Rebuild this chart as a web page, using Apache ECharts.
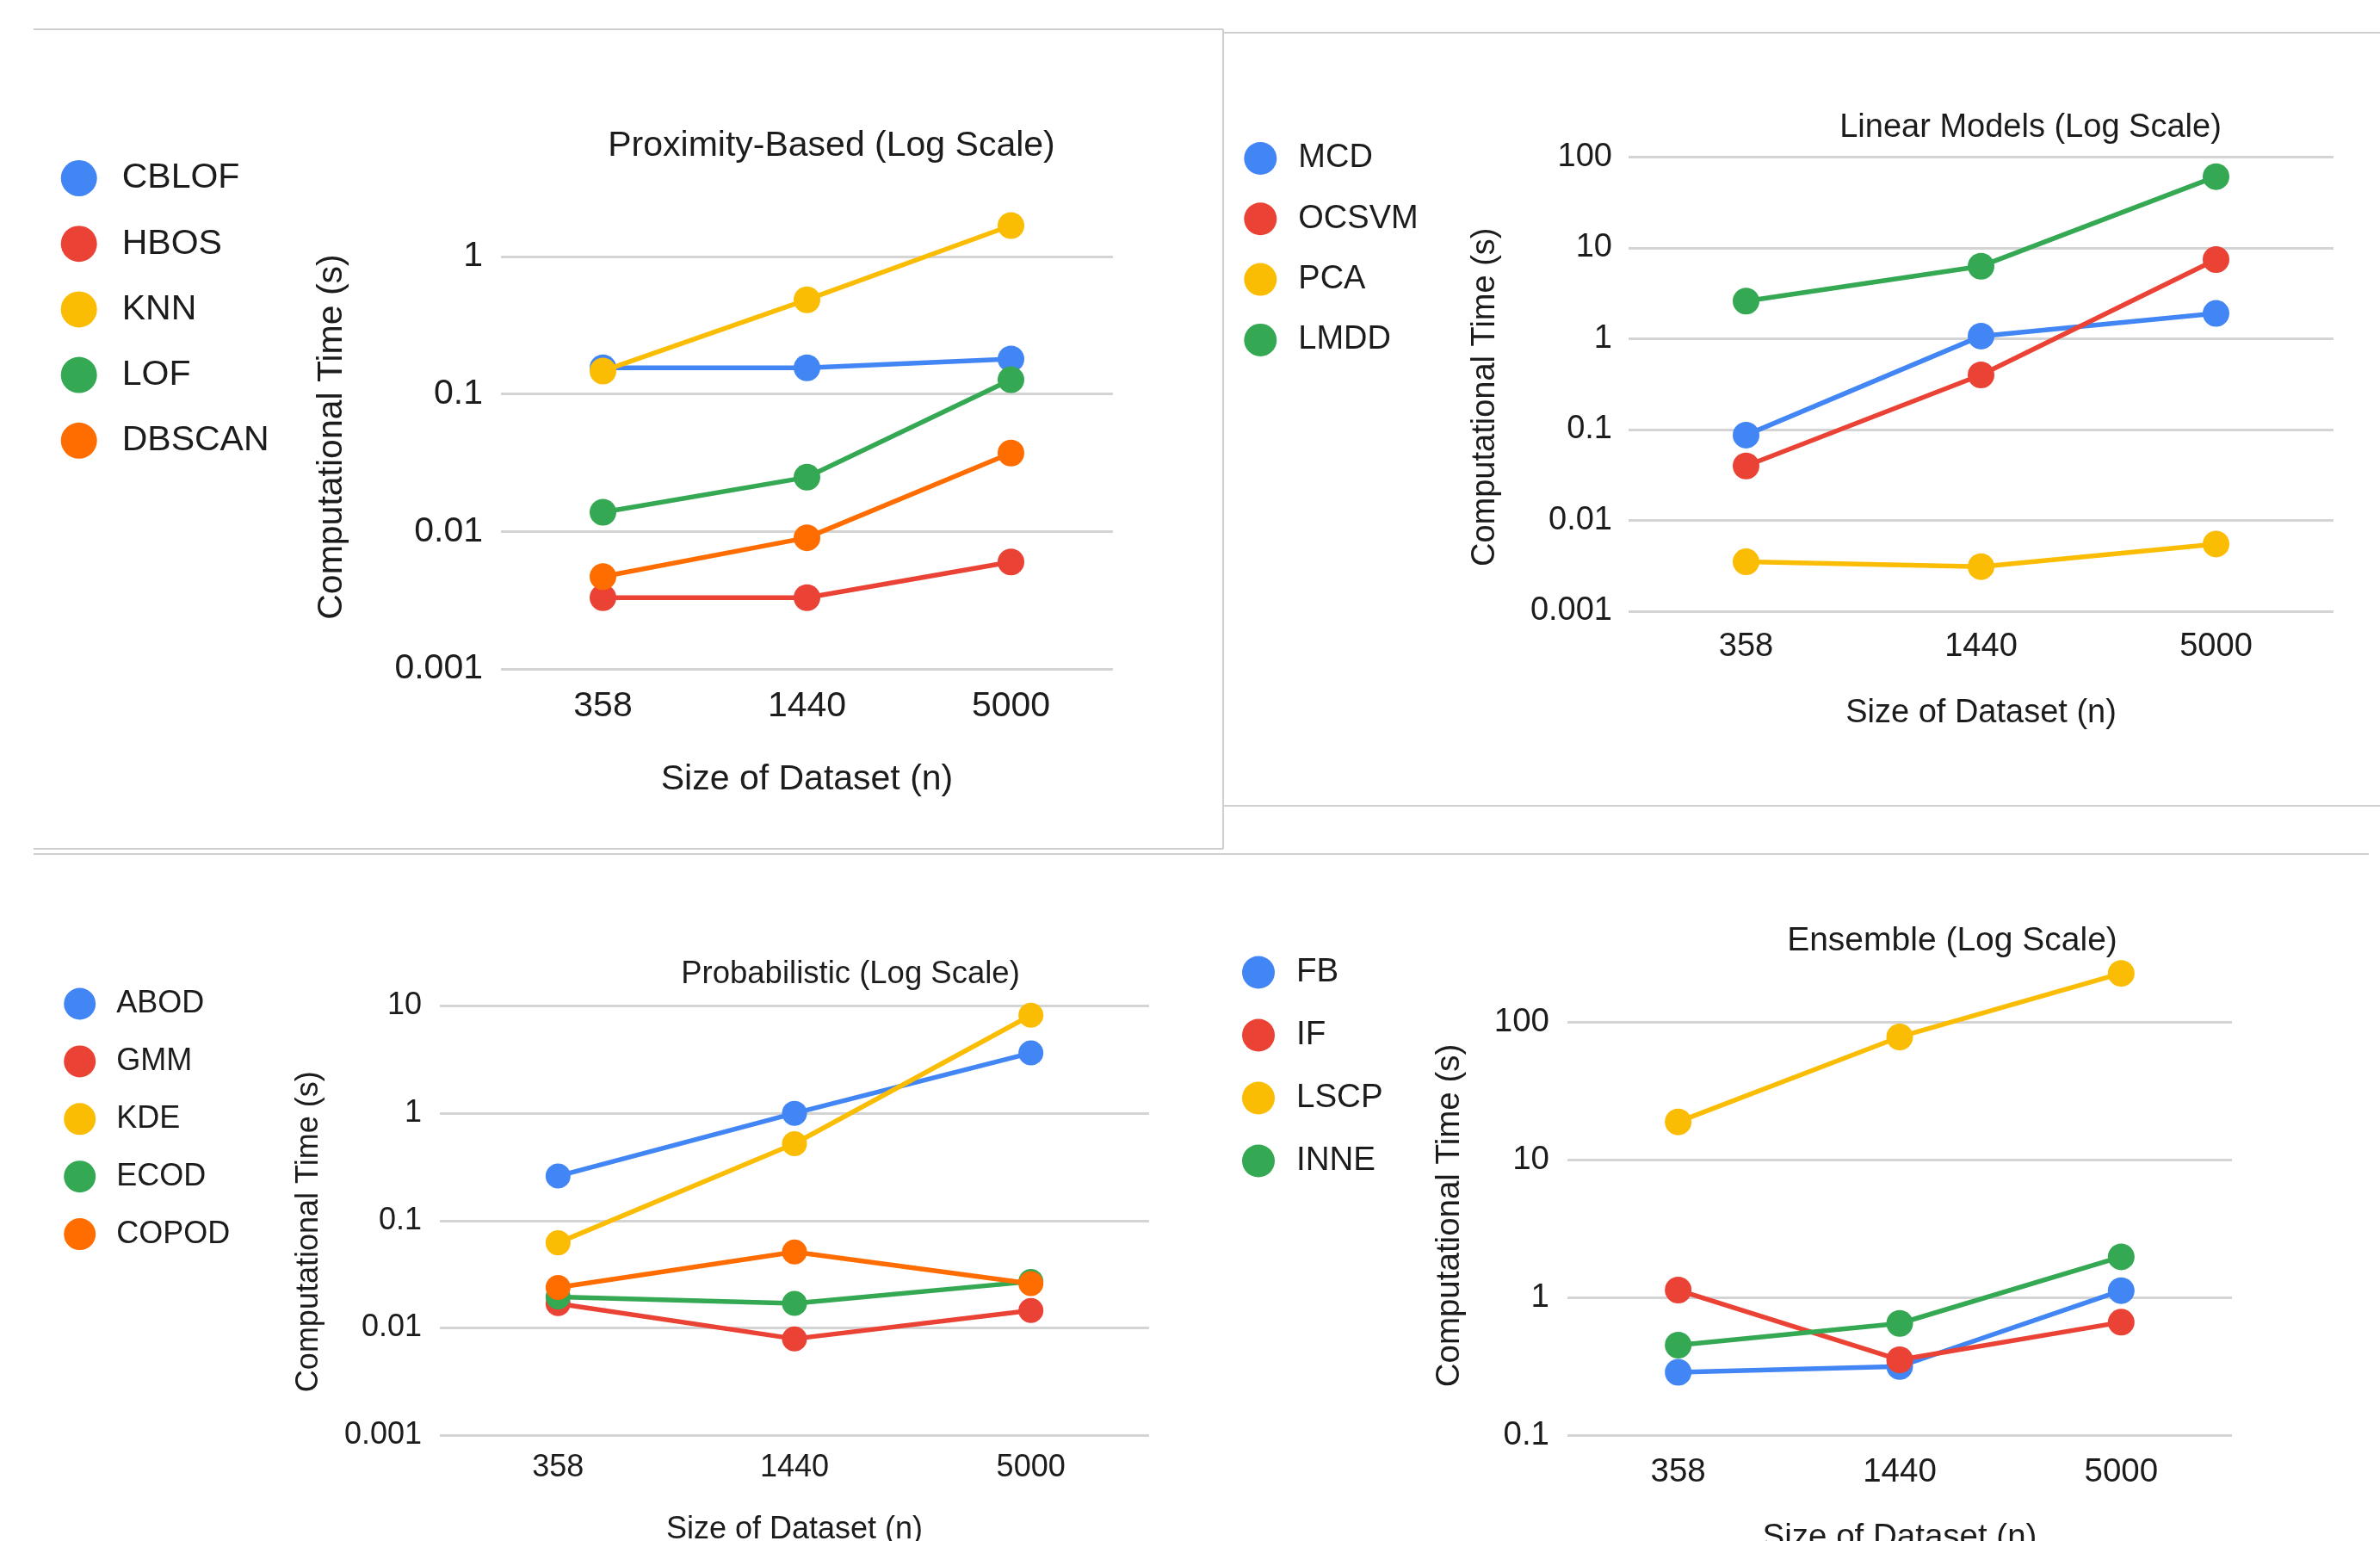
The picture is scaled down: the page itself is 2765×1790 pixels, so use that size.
<!DOCTYPE html>
<html>
<head>
<meta charset="utf-8">
<script src="https://cdn.jsdelivr.net/npm/echarts@6/dist/echarts.min.js"></script>
<style>
html,body{margin:0;padding:0;background:#fff;}
#c{width:2765px;height:1790px;}
</style>
</head>
<body>
<div id="c"></div>
<script>
// ---------- DATA ----------
const categories = ['358', '1440', '5000'];

// Proximity-Based
const proxNames = ['CBLOF', 'HBOS', 'KNN', 'LOF', 'DBSCAN'];
const CBLOF  = [0.155, 0.155, 0.18];
const HBOS   = [0.0033, 0.0033, 0.006];
const KNN    = [0.147, 0.485, 1.68];
const LOF    = [0.0138, 0.0248, 0.127];
const DBSCAN = [0.0047, 0.009, 0.0372];
const proxTicks = [0.001, 0.01, 0.1, 1];

// Linear Models
const linNames = ['MCD', 'OCSVM', 'PCA', 'LMDD'];
const MCD   = [0.087, 1.07, 1.9];
const OCSVM = [0.0398, 0.4, 7.45];
const PCA   = [0.0035, 0.0031, 0.0055];
const LMDD  = [2.6, 6.3, 61];
const linTicks = [0.001, 0.01, 0.1, 1, 10, 100];

// Probabilistic
const probNames = ['ABOD', 'GMM', 'KDE', 'ECOD', 'COPOD'];
const ABOD  = [0.26, 1.0, 3.65];
const GMM   = [0.0168, 0.0079, 0.0145];
const KDE   = [0.062, 0.52, 8.2];
const ECOD  = [0.0194, 0.0169, 0.027];
const COPOD = [0.0238, 0.051, 0.0258];
const probTicks = [0.001, 0.01, 0.1, 1, 10];

// Ensemble
const ensNames = ['FB', 'IF', 'LSCP', 'INNE'];
const FB   = [0.286, 0.315, 1.12];
const IF   = [1.13, 0.352, 0.66];
const LSCP = [18.8, 77.8, 225];
const INNE = [0.45, 0.647, 1.97];
const ensTicks = [0.1, 1, 10, 100];

const titles = ['Proximity-Based (Log Scale)', 'Linear Models (Log Scale)', 'Probabilistic (Log Scale)', 'Ensemble (Log Scale)'];
const xTitle = 'Size of Dataset (n)';
const yTitle = 'Computational Time (s)';

// ---------- STYLE / LAYOUT ----------
const BLUE = '#4285F4', RED = '#EA4335', YELLOW = '#FBBC04', GREEN = '#34A853', ORANGE = '#FF6D01';
const FONT = "'Liberation Sans', Arial, Helvetica, sans-serif";
const TXT = '#1c1c1c';
const GRIDC = '#d4d4d4';

const panels = [
  { names: proxNames, values: [CBLOF, HBOS, KNN, LOF, DBSCAN], colors: [BLUE, RED, YELLOW, GREEN, ORANGE], ticks: proxTicks,
    grid: { left: 582, top: 298, width: 711, height: 479 }, fs: 41, tfs: 41, titleX: 966, titleY: 169.5,
    legend: { left: 70.7, top: 186, size: 42, gap: 34.2, pad: 24 }, sym: 31,
    xLabelMargin: 23.5, xNameGap: 108.5, yLabelMargin: 21, yNameGap: 176, yNamePad: [0, 0, 0, 60] },
  { names: linNames, values: [MCD, OCSVM, PCA, LMDD], colors: [BLUE, RED, YELLOW, GREEN], ticks: linTicks,
    grid: { left: 1892, top: 182.5, width: 819, height: 527.5 }, fs: 38, tfs: 38, titleX: 2359, titleY: 148.5,
    legend: { left: 1445.3, top: 165, size: 38, gap: 32.3, pad: 20 }, sym: 31,
    xLabelMargin: 22.5, xNameGap: 99.5, yLabelMargin: 19, yNameGap: 147, yNamePad: [0, 30, 0, 0] },
  { names: probNames, values: [ABOD, GMM, KDE, ECOD, COPOD], colors: [BLUE, RED, YELLOW, GREEN, ORANGE], ticks: probTicks,
    grid: { left: 511, top: 1168.5, width: 824, height: 498.5 }, fs: 36, tfs: 36.5, titleX: 988, titleY: 1132,
    legend: { left: 74.2, top: 1147.5, size: 37, gap: 29.9, pad: 19 }, sym: 29,
    xLabelMargin: 20.5, xNameGap: 92, yLabelMargin: 21, yNameGap: 134, yNamePad: [0, 26, 0, 0] },
  { names: ensNames, values: [FB, IF, LSCP, INNE], colors: [BLUE, RED, YELLOW, GREEN], ticks: ensTicks,
    grid: { left: 1821, top: 1187, width: 772, height: 480 }, fs: 38.5, tfs: 39, titleX: 2268, titleY: 1093.5,
    legend: { left: 1443, top: 1110, size: 38, gap: 34, pad: 20 }, sym: 31,
    xLabelMargin: 23.5, xNameGap: 100, yLabelMargin: 21, yNameGap: 117, yNamePad: [0, 0, 0, 30] }
];

const fmt = v => String(parseFloat((+v).toPrecision(3)));

const option = {
  animation: false,
  backgroundColor: '#ffffff',
  textStyle: { fontFamily: FONT },
  title: [], legend: [], grid: [], xAxis: [], yAxis: [], series: [],
  graphic: []
};

panels.forEach((p, k) => {
  option.title.push({
    text: titles[k], left: p.titleX, top: p.titleY - p.tfs / 2, textAlign: 'center', padding: 0,
    textStyle: { fontFamily: FONT, fontSize: p.tfs, fontWeight: 'normal', color: TXT }
  });
  option.legend.push({
    data: p.names, orient: 'vertical', left: p.legend.left, top: p.legend.top,
    itemWidth: p.legend.size, itemHeight: p.legend.size, itemGap: p.legend.gap,
    icon: 'circle', padding: 0, selectedMode: false,
    textStyle: { fontFamily: FONT, fontSize: p.fs, color: TXT, padding: [0, 0, 0, p.legend.pad] }
  });
  option.grid.push(Object.assign({ containLabel: false, outerBoundsMode: 'none' }, p.grid));
  option.xAxis.push({
    type: 'category', gridIndex: k, data: categories, boundaryGap: true,
    axisLine: { show: false }, axisTick: { show: false }, splitLine: { show: false },
    axisLabel: { fontFamily: FONT, fontSize: p.fs, color: TXT, margin: p.xLabelMargin },
    name: xTitle, nameLocation: 'middle', nameGap: p.xNameGap,
    nameTextStyle: { fontFamily: FONT, fontSize: p.fs, color: TXT }
  });
  option.yAxis.push({
    type: 'log', logBase: 10, gridIndex: k,
    min: p.ticks[0], max: p.ticks[p.ticks.length - 1],
    axisLine: { show: false }, axisTick: { show: false }, minorTick: { show: false },
    splitLine: { show: true, lineStyle: { color: GRIDC, width: 3 } },
    axisLabel: { fontFamily: FONT, fontSize: p.fs, color: TXT, margin: p.yLabelMargin, formatter: fmt },
    name: yTitle, nameLocation: 'middle', nameRotate: 90, nameGap: p.yNameGap,
    nameTextStyle: { fontFamily: FONT, fontSize: p.fs, color: TXT, padding: p.yNamePad }
  });
  p.names.forEach((n, i) => {
    option.series.push({
      name: n, type: 'line', xAxisIndex: k, yAxisIndex: k, data: p.values[i],
      symbol: 'circle', symbolSize: p.sym, showSymbol: true, clip: false,
      lineStyle: { width: 5.5, color: p.colors[i] },
      itemStyle: { color: p.colors[i] },
      emphasis: { disabled: true }, z: 2 + i
    });
  });
});

// panel frame lines (decorative)
const lineStyle = { stroke: '#cfcfcf', lineWidth: 2 };
[
  [39, 34, 1421, 34], [1421, 34, 1421, 986], [39, 986, 1421, 986],
  [1421, 38, 2765, 38], [1421, 936, 2765, 936],
  [39, 992, 2752, 992]
].forEach(s => option.graphic.push({
  type: 'line', silent: true, z: 0,
  shape: { x1: s[0], y1: s[1], x2: s[2], y2: s[3] }, style: lineStyle
}));

const chart = echarts.init(document.getElementById('c'), null, { renderer: 'canvas', width: 2765, height: 1790 });
chart.setOption(option);
</script>
</body>
</html>
